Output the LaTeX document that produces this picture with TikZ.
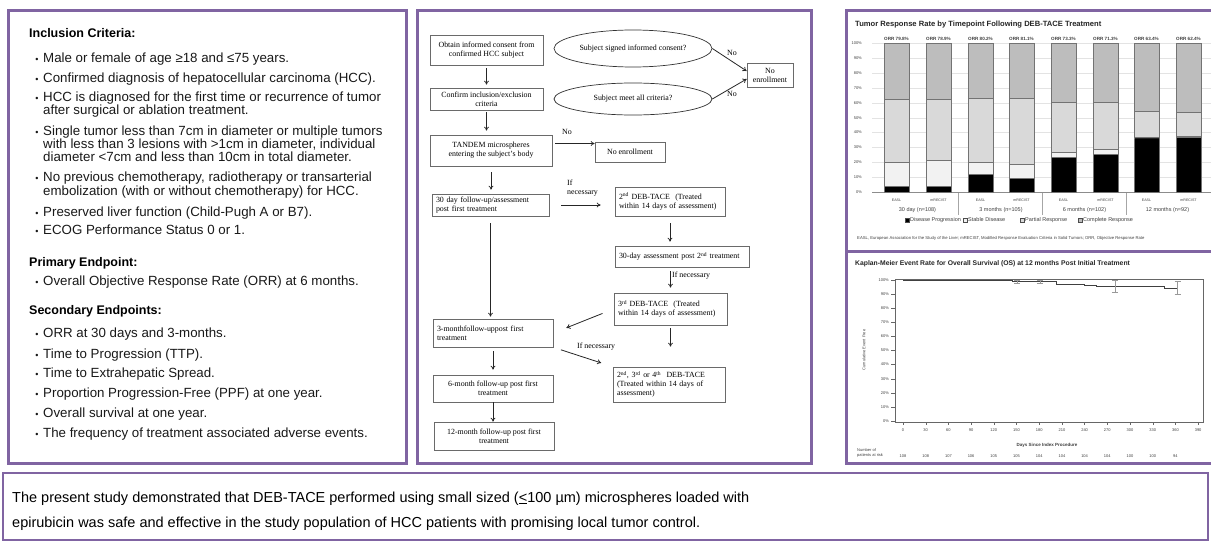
\documentclass[tikz,border=0pt]{standalone}
\usepackage{fontspec}
\setmainfont{Liberation Sans}
\newfontfamily\flowfont{Liberation Serif}
\usetikzlibrary{shapes.geometric, arrows.meta}
\definecolor{panelpurple}{HTML}{8064A2}
\definecolor{boxgrey}{HTML}{6A6A6A}
\definecolor{sdwhite}{HTML}{F2F2F2}
\definecolor{prgrey}{HTML}{D9D9D9}
\definecolor{crgrey}{HTML}{BDBDBD}
\definecolor{gridgrey}{HTML}{E3E3E3}
\definecolor{chartink}{HTML}{404040}

\begin{document}
\begin{tikzpicture}[x=1pt, y=-1pt,
    panel/.style={draw=panelpurple, line width=3pt},
    crit/.style={inner sep=0pt, text=black!90, font=\fontsize{13.3}{14}\selectfont},
    crithead/.style={inner sep=0pt, text=black, font=\bfseries\fontsize{12.5}{14}\selectfont},
    fbox/.style={draw=boxgrey, line width=0.7pt, inner sep=1pt, align=center,
        font=\flowfont\fontsize{7.9}{9}\selectfont},
    lbox/.style={fbox, align=left, inner xsep=4pt},
    fell/.style={fbox, ellipse, draw=black!80},
    flow/.style={-{To[length=4pt, width=5pt]}, line width=0.8pt, draw=black!85},
    flowlab/.style={inner sep=0pt, font=\flowfont\fontsize{7.9}{9}\selectfont},
    bar/.style={draw=black!55, line width=0.5pt},
    tiny/.style={inner sep=0pt, text=chartink, font=\fontsize{4}{5}\selectfont},
    grouplab/.style={inner sep=0pt, text=chartink, font=\fontsize{5.5}{6}\selectfont},
    charttitle/.style={inner sep=0pt, text=black!85, font=\bfseries\fontsize{7.6}{9}\selectfont},
    summ/.style={inner sep=0pt, text=black, font=\fontsize{14.5}{16}\selectfont}
]
% page
\useasboundingbox (0,0) rectangle (1211,543);
\fill[white] (0,0) rectangle (1211,543);

% panels
\draw[panel] (8,11) rectangle (406,463);
\draw[panel] (417,11) rectangle (811,463);
\draw[panel] (846,11) rectangle (1218,463);
\draw[panel] (846,251) -- (1218,251);
\draw[panel, line width=2.5pt] (3,473) rectangle (1208,540);

% criteria and endpoints
\node[crithead, anchor=base west] (inchead) at (29,37.5) {Inclusion Criteria:};
\node[crithead, anchor=base west] (primhead) at (29,266) {Primary Endpoint:};
\node[crithead, anchor=base west] (sechead) at (29,314) {Secondary Endpoints:};
\foreach \yy/\txt [count=\k] in {
    62.5/{Male or female of age ≥18 and ≤75 years.},
    82.5/{Confirmed diagnosis of hepatocellular carcinoma (HCC).},
    101.5/{HCC is diagnosed for the first time or recurrence of tumor},
    135.5/{Single tumor less than 7cm in diameter or multiple tumors},
    181.5/{No previous chemotherapy, radiotherapy or transarterial},
    216.5/{Preserved liver function (Child-Pugh A or B7).},
    234.5/{ECOG Performance Status 0 or 1.},
    285.5/{Overall Objective Response Rate (ORR) at 6 months.},
    337.5/{ORR at 30 days and 3-months.},
    358.5/{Time to Progression (TTP).},
    377.5/{Time to Extrahepatic Spread.},
    397.5/{Proportion Progression-Free (PPF) at one year.},
    417.5/{Overall survival at one year.},
    437.5/{The frequency of treatment associated adverse events.}}{
    \node[crit, anchor=base] (dot\k) at (37,\yy) {\fontsize{9}{9}\selectfont •};
    \node[crit, anchor=base west] (crit\k) at (43,\yy) {\txt};
}
\foreach \yy/\txt [count=\k] in {
    114.5/{after surgical or ablation treatment.},
    148.5/{with less than 3 lesions with >1cm in diameter, individual},
    161.5/{diameter <7cm and less than 10cm in total diameter.},
    195.5/{embolization (with or without chemotherapy) for HCC.}}{
    \node[crit, anchor=base west] (more\k) at (43,\yy) {\txt};
}

% flowchart boxes
\node[fbox, minimum width=113pt, minimum height=30pt] (consent) at (486.5,50)
    {Obtain informed consent from\\confirmed HCC subject};
\node[fell, minimum width=158pt, minimum height=37pt] (signed) at (633,48.5)
    {Subject signed informed consent?};
\node[fbox, minimum width=46pt, minimum height=24pt] (noenrA) at (770,75) {No\\enrollment};
\node[fbox, minimum width=113pt, minimum height=22pt] (confirm) at (486.5,99)
    {Confirm inclusion/exclusion\\criteria};
\node[fell, minimum width=158pt, minimum height=32pt] (meet) at (633,99)
    {Subject meet all criteria?};
\node[fbox, minimum width=122pt, minimum height=31pt] (tandem) at (491,150.5)
    {TANDEM microspheres\\entering the subject’s body};
\node[fbox, minimum width=70pt, minimum height=20pt] (noenrB) at (630,152) {No enrollment};
\node[lbox, text width=109pt, minimum height=22pt] (day30) at (490.5,205)
    {30 day follow-up/assessment\\post first treatment};
\node[lbox, text width=102pt, minimum height=29pt] (tace2) at (670,201.5)
    {2\textsuperscript{nd} DEB-TACE\ \ (Treated\\within 14 days of assessment)};
\node[lbox, text width=126pt, minimum height=21pt] (assess2) at (682,256.5)
    {30-day assessment post 2\textsuperscript{nd} treatment};
\node[lbox, text width=105pt, minimum height=32pt] (tace3) at (670.5,309)
    {3\textsuperscript{rd} DEB-TACE\ \ (Treated\\within 14 days of assessment)};
\node[lbox, text width=112pt, minimum height=28pt] (m3) at (493,333)
    {3-monthfollow-uppost first\\treatment};
\node[lbox, text width=104pt, minimum height=35pt] (tace4) at (669,384.5)
    {2\textsuperscript{nd}, 3\textsuperscript{rd} or 4\textsuperscript{th}\ \ DEB-TACE\\(Treated within 14 days of\\assessment)};
\node[fbox, minimum width=120pt, minimum height=27pt] (m6) at (493,388.5)
    {6-month follow-up post first\\treatment};
\node[fbox, minimum width=120pt, minimum height=28pt] (m12) at (494,436)
    {12-month follow-up post first\\treatment};

% flowchart labels
\node[flowlab] (noA) at (732,53) {No};
\node[flowlab] (noB) at (732,94) {No};
\node[flowlab] (noC) at (567,132) {No};
\node[flowlab, align=left, anchor=west] (ifA) at (567,188) {If\\necessary};
\node[flowlab, anchor=west] (ifB) at (672,276) {If necessary};
\node[flowlab, anchor=west] (ifC) at (577,347) {If necessary};

% flowchart arrows
\draw[flow] (signed.east) -- ([yshift=4pt]noenrA.west);
\draw[flow] (meet.east) -- ([yshift=-4pt]noenrA.west);
\draw[flow, shorten <=3pt, shorten >=3pt] (consent) -- (confirm);
\draw[flow, shorten <=2pt, shorten >=4pt] (confirm.south) -- (confirm.south |- tandem.north);
\draw[flow, shorten <=3pt] ([yshift=7pt]tandem.east) -- ([yshift=7pt]tandem.east -| noenrB.west);
\draw[flow, shorten <=6pt, shorten >=4pt] (tandem.south) -- (tandem.south |- day30.north);
\draw[flow, shorten <=12pt, shorten >=14pt] (day30.east) -- (day30.east -| tace2.west);
\draw[flow, shorten <=7pt, shorten >=4pt] (tace2.south) -- (tace2.south |- assess2.north);
\draw[flow, shorten <=4pt, shorten >=5pt] (tace3.north |- assess2.south) -- (tace3.north);
\draw[flow, shorten <=3pt, shorten >=20pt] (tace3.south) -- (tace3.south |- tace4.north);
\draw[flow, shorten <=12pt, shorten >=14pt] (tace3.west) -- (m3.east);
\draw[flow, shorten <=7pt, shorten >=2pt] (day30.south) -- (day30.south |- m3.north);
\draw[flow, shorten <=8pt, shorten >=12pt] (m3.south east) -- (tace4.north west);
\draw[flow, shorten <=4pt, shorten >=5pt] (m3) -- (m6);
\draw[flow] (m6.south) -- (m6.south |- m12.north);

% tumor response chart
\node[charttitle, anchor=base west] (trtitle) at (855,26.7)
    {Tumor Response Rate by Timepoint Following DEB-TACE Treatment};
\begin{scope}[shift={(0,192)}, y=1.485pt]
    \foreach \p in {10,20,...,100}
        \draw[gridgrey, line width=0.4pt] (872,\p) -- (1211,\p);
    \draw[black!45, line width=0.5pt] (872,0) -- (1211,0);
    \foreach \p in {0,10,...,100}
        \node[tiny, anchor=east] (ty\p) at (862,\p) {\p\%};
    \foreach \bx/\pd/\sd/\pr/\orr [count=\i] in {
        884/3.7/20.2/62.6/79.8, 926/3.7/21.1/62.6/78.9,
        968/12.0/19.8/63.1/80.2, 1009/9.2/18.9/63.1/81.1,
        1051/23.5/26.7/60.6/73.3, 1093/25.5/28.7/60.6/71.3,
        1134/36.6/36.6/54.6/63.4, 1176/36.6/37.6/53.8/62.4}{
        \filldraw[bar, fill=black] (\bx,0) rectangle (\bx+25,\pd);
        \filldraw[bar, fill=sdwhite] (\bx,\pd) rectangle (\bx+25,\sd);
        \filldraw[bar, fill=prgrey] (\bx,\sd) rectangle (\bx+25,\pr);
        \filldraw[bar, fill=crgrey] (\bx,\pr) rectangle (\bx+25,100);
        \node[tiny, font=\bfseries\fontsize{4.6}{5}\selectfont] (orr\i) at (\bx+12.5,103) {ORR \orr\%};
    }
\end{scope}
\foreach \bx/\lab [count=\i] in {884/EASL, 926/mRECIST, 968/EASL, 1009/mRECIST,
        1051/EASL, 1093/mRECIST, 1134/EASL, 1176/mRECIST}
    \node[tiny, font=\fontsize{3.6}{4}\selectfont] (crit\i) at (\bx+12.5,200) {\lab};
\foreach \gx/\lab [count=\i] in {917.5/{30 day (n=108)}, 1001/{3 months (n=105)},
        1084.5/{6 months (n=102)}, 1167.5/{12 months (n=92)}}
    \node[grouplab] (grp\i) at (\gx,210) {\lab};
\foreach \sx in {958,1042,1126}
    \draw[black!35, line width=0.4pt] (\sx,193) -- (\sx,215);
\foreach \lx/\col/\lab [count=\i] in {905/black/Disease Progression, 963/sdwhite/Stable Disease,
        1020/prgrey/Partial Response, 1078/crgrey/Complete Response}{
    \filldraw[draw=black!70, line width=0.4pt, fill=\col] (\lx,218) rectangle (\lx+4,222);
    \node[grouplab, anchor=west] (leg\i) at (\lx+5,220) {\lab};
}
\node[tiny, anchor=west, font=\fontsize{4.2}{5}\selectfont] (trnote) at (857,238)
    {EASL, European Association for the Study of the Liver; mRECIST, Modified Response Evaluation Criteria in Solid Tumors; ORR, Objective Response Rate};

% survival chart
\node[charttitle, anchor=base west, font=\bfseries\fontsize{6.8}{8}\selectfont] (kmtitle) at (855,265.5)
    {Kaplan-Meier Event Rate for Overall Survival (OS) at 12 months Post Initial Treatment};
\draw[black!60, line width=0.5pt] (895,279) rectangle (1203,422);
\begin{scope}[shift={(0,421)}, y=1.41pt]
    \foreach \p in {0,10,...,100}{
        \draw[black!60, line width=0.4pt] (891,\p) -- (895,\p);
        \node[tiny, anchor=east] (ky\p) at (889,\p) {\p\%};
    }
    \begin{scope}[shift={(903,0)}, x=0.7567pt]
        \draw[black!75, line width=0.8pt] (0,100) -- (144,100) -- (144,98.9) -- (203,98.9)
            -- (203,97.2) -- (240,97.2) -- (240,96.2) -- (256,96.2) -- (256,95.2)
            -- (346,95.2) -- (346,94.2) -- (363,94.2);
        \foreach \d/\lo/\hi in {151/97.6/100, 181/97.6/100, 280/91/99.5, 363/90/99}{
            \draw[black!40, line width=0.5pt] (\d,\lo) -- (\d,\hi);
            \draw[black!40, line width=0.5pt] (\d-4,\lo) -- (\d+4,\lo);
            \draw[black!40, line width=0.5pt] (\d-4,\hi) -- (\d+4,\hi);
        }
    \end{scope}
\end{scope}
\foreach \d in {0,30,...,390}{
    \draw[black!60, line width=0.4pt] (903+0.7567*\d,422) -- (903+0.7567*\d,425);
    \node[tiny] (kx\d) at (903+0.7567*\d,430) {\d};
}
\node[tiny, rotate=90] (kmylab) at (864,350) {Cumulative Event Free};
\node[tiny, font=\bfseries\fontsize{4.5}{5}\selectfont] (kmxlab) at (1047,445) {Days Since Index Procedure};
\node[tiny, align=left, anchor=west] (risklab) at (857,453) {Number of\\patients at risk};
\foreach \n [count=\i from 0] in {108,108,107,106,105,105,104,104,104,104,100,100,94}
    \node[tiny] (risk\i) at (903+22.7*\i,456) {\n};

% conclusion
\node[summ, anchor=base west] (sumA) at (12,502)
    {The present study demonstrated that DEB-TACE performed using small sized (\underline{<}100 µm) microspheres loaded with};
\node[summ, anchor=base west] (sumB) at (12,527)
    {epirubicin was safe and effective in the study population of HCC patients with promising local tumor control.};
\end{tikzpicture}
\end{document}
